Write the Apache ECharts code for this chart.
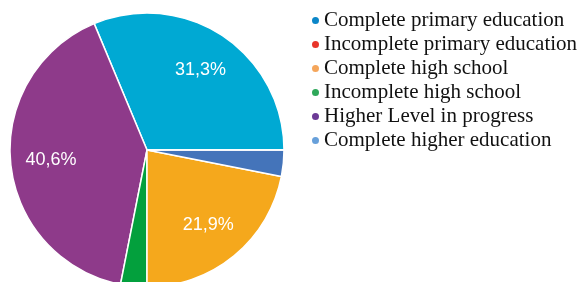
<!DOCTYPE html>
<html>
<head>
<meta charset="utf-8">
<script src="https://cdn.jsdelivr.net/npm/echarts@6/dist/echarts.min.js"></script>
<style>
  html, body { margin: 0; padding: 0; background: #fff; }
  #chart { width: 579px; height: 282px; }
</style>
</head>
<body>
<div id="chart"></div>
<script>
// categories in legend order
var categories = ['Complete primary education', 'Incomplete primary education', 'Complete high school',
                  'Incomplete high school', 'Higher Level in progress', 'Complete higher education'];
var percents = [31.3, 0, 21.9, 3.1, 40.6, 3.1];
// slice colours and legend dot colours (they differ slightly in the original)
var sliceColors = ['#00a9d3', '#e8352a', '#f5a81c', '#03a03d', '#8e3a8a', '#4474ba'];
var dotColors = ['#0b86c8', '#e8352a', '#f5a65b', '#2ea85a', '#6c3a96', '#67a0da'];
// drawing order (counter-clockwise from 3 o'clock)
var sliceOrder = [0, 4, 3, 2, 5, 1];

var myChart = echarts.init(document.getElementById('chart'));

var pieData = sliceOrder.map(function (i) {
    return { name: categories[i], value: percents[i], itemStyle: { color: sliceColors[i] } };
});
var labelData = sliceOrder.map(function (i) {
    return { name: categories[i], value: percents[i] };
});

var option = {
    animation: false,
    legend: {
        orient: 'vertical',
        left: 310,
        top: 10,
        padding: 0,
        itemGap: 3,
        itemWidth: 9,
        itemHeight: 9,
        icon: 'circle',
        textStyle: {
            fontFamily: '"Liberation Serif", "Times New Roman", serif',
            fontSize: 21,
            lineHeight: 21,
            color: '#111',
            padding: [0, 0, 0, -1]
        },
        data: categories.map(function (c, i) {
            return { name: c, itemStyle: { color: dotColors[i] } };
        })
    },
    series: [
        {
            name: 'pie',
            type: 'pie',
            center: [147, 150],
            radius: [0, 137],
            startAngle: 0,
            clockwise: false,
            minAngle: 0,
            avoidLabelOverlap: false,
            silent: true,
            itemStyle: { borderColor: '#fff', borderWidth: 1.5 },
            label: { show: false },
            labelLine: { show: false },
            data: pieData
        },
        {
            // transparent ring, only used to place the labels further out
            name: 'labels',
            type: 'pie',
            center: [147, 150],
            radius: [50, 137],
            startAngle: 0,
            clockwise: false,
            silent: true,
            legendHoverLink: false,
            itemStyle: { color: 'rgba(0,0,0,0)', borderWidth: 0 },
            label: {
                show: true,
                position: 'inside',
                color: '#fff',
                fontFamily: '"Liberation Sans", Arial, sans-serif',
                fontSize: 18,
                formatter: function (p) {
                    if (p.value < 10) return '';
                    return p.value.toFixed(1).replace('.', ',') + '%';
                }
            },
            labelLine: { show: false },
            data: labelData
        }
    ]
};

myChart.setOption(option);
</script>
</body>
</html>
